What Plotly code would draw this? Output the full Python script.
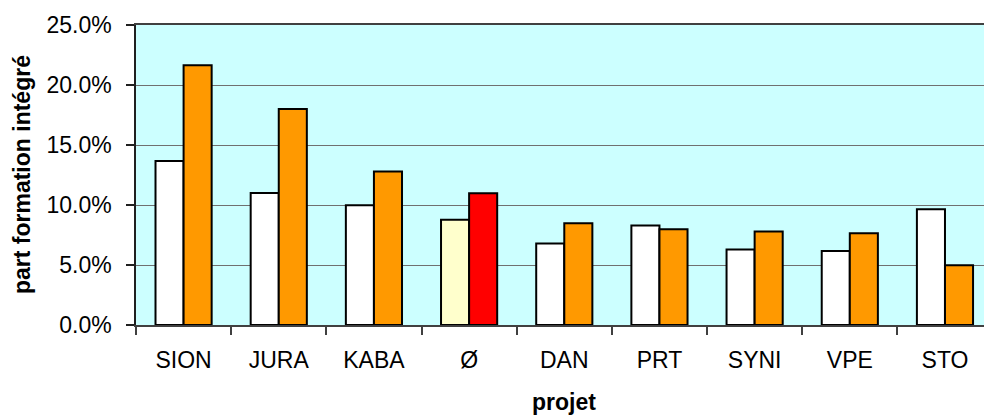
import plotly.graph_objects as go

categories = ["SION", "JURA", "KABA", "Ø", "DAN", "PRT", "SYNI", "VPE", "STO"]
series_a = [0.1367, 0.110, 0.0997, 0.0878, 0.068, 0.083, 0.063, 0.0617, 0.0964]
series_b = [0.2164, 0.180, 0.128, 0.1097, 0.0847, 0.0797, 0.078, 0.0764, 0.0497]
colors_a = ["#FFFFFF", "#FFFFFF", "#FFFFFF", "#FFFFCC", "#FFFFFF", "#FFFFFF", "#FFFFFF", "#FFFFFF", "#FFFFFF"]
colors_b = ["#FF9900", "#FF9900", "#FF9900", "#FF0000", "#FF9900", "#FF9900", "#FF9900", "#FF9900", "#FF9900"]
y_ticks = [0, 0.05, 0.10, 0.15, 0.20, 0.25]

FONT = "Liberation Sans, Arial, sans-serif"

fig = go.Figure()
fig.add_trace(go.Bar(x=categories, y=series_a, marker=dict(color=colors_a, line=dict(color="#000000", width=2)), showlegend=False))
fig.add_trace(go.Bar(x=categories, y=series_b, marker=dict(color=colors_b, line=dict(color="#000000", width=2)), showlegend=False))

fig.update_layout(
    width=984, height=417,
    margin=dict(l=136, r=0, t=25, b=92, pad=0),
    paper_bgcolor="#FFFFFF", plot_bgcolor="#CCFFFF",
    barmode="group", bargap=0.41, bargroupgap=0,
    font=dict(family=FONT, size=23, color="#000000"),
    xaxis=dict(
        type="category", range=[-0.5, 8.41],
        showline=True, linecolor="#404040", linewidth=1.5, mirror=True,
        ticks="outside", ticklen=8, tickcolor="#404040", tickwidth=1.5,
        tickson="boundaries", showgrid=False, automargin=False,
        tickfont=dict(size=23), ticklabelstandoff=14,
    ),
    yaxis=dict(
        range=[0, 0.25], tickvals=y_ticks, tickformat=".1%",
        showline=True, linecolor="#202020", linewidth=1.5, mirror=False,
        ticks="outside", ticklen=8, tickcolor="#202020", tickwidth=1.5,
        showgrid=True, gridcolor="#707070", gridwidth=1.2,
        zeroline=False, tickfont=dict(size=23), ticklabelstandoff=10,
        automargin=False,
    ),
    annotations=[
        dict(text="<b>projet</b>", x="DAN", xref="x", y=-0.258, yref="paper",
             yanchor="middle", showarrow=False, font=dict(size=23)),
        dict(text="<b>part formation intégré</b>", x=-0.1344, xref="paper", y=0.5, yref="paper",
             xanchor="center", yanchor="middle", textangle=-90, showarrow=False, font=dict(size=23)),
    ],
)

fig.write_html("out.html", config={"displayModeBar": False},
               post_script="document.body.style.margin='0px';document.body.style.overflow='hidden';")
